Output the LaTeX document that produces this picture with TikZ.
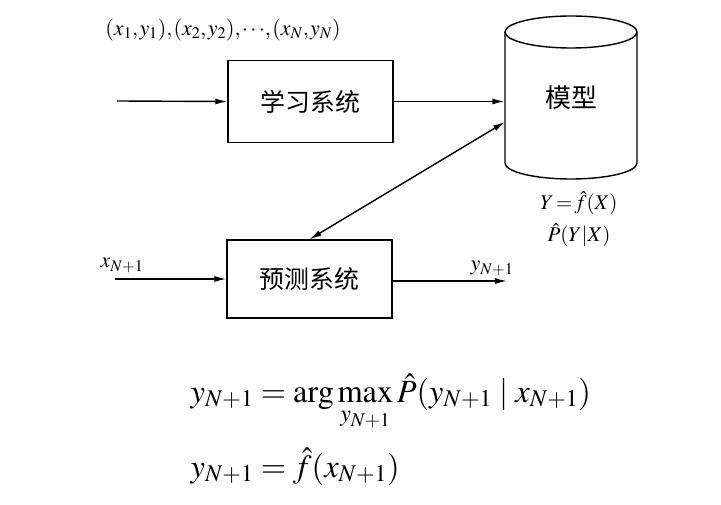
\documentclass[tikz,border=0pt]{standalone}
\usepackage{mathptmx}
\usepackage[no-math]{fontspec}
\setmainfont{Liberation Serif}
\newfontfamily\cjk{Noto Sans CJK SC}
\usetikzlibrary{arrows.meta}
\newcommand{\tc}{{,}\mskip1mu}
\begin{document}
\begin{tikzpicture}[x=1bp,y=-1bp,
  line width=1.4bp,
  sysbox/.style={draw, minimum width=165bp, minimum height=82bp, inner sep=0pt, font=\cjk\fontsize{25}{28}\selectfont},
  arr/.style={-{Latex[length=12bp,width=6bp]}},
  darr/.style={{Latex[length=12bp,width=6bp]}-{Latex[length=12bp,width=6bp]}},
  lbl/.style={inner sep=0pt, font=\fontsize{21}{24}\selectfont},
  eq/.style={inner sep=0pt, anchor=base west, font=\fontsize{32.5}{38}\selectfont}]
\useasboundingbox (0,0) rectangle (721,505);
% top data label
\node[lbl, font=\fontsize{22}{24}\selectfont] (data) at (223,30) {$(x_1\tc y_1)\tc(x_2\tc y_2)\tc{\cdots}\tc(x_N\tc y_N)$};
% learning system
\node[sysbox] (learn) at (310.5,101.5) {学习系统};
\coordinate (inl) at (117,101);
% cylinder model
\draw (505,32) -- (505,163) arc[start angle=180,end angle=360,x radius=66bp,y radius=16bp] -- (637,32);
\draw (571,32) ellipse[x radius=66bp, y radius=16bp];
\node[inner sep=0pt, minimum width=132bp, minimum height=131bp, font=\cjk\fontsize{26}{28}\selectfont] (model) at (571,97.5) {模型};
\coordinate (mlink) at (505,122);
\node[lbl] (fx) at (579,203) {$Y\!=\!\hat f(X)$};
\node[lbl] (px) at (579,235) {$\hat P(Y|X)$};
% prediction system
\node[sysbox, minimum height=78bp] (pred) at (309.5,279) {预测系统};
\coordinate (inp) at (115,279);
\coordinate (outp) at (507,281);
\node[lbl, anchor=base west, font=\fontsize{22}{24}\selectfont] (xin) at (100,268) {$x_{N+1}$};
\node[lbl, anchor=base west, font=\fontsize{22}{24}\selectfont] (yout) at (470,271) {$y_{N+1}$};
% connectors
\draw[arr] (inl) -- (learn.west);
\draw[arr] (learn.east) -- (learn.east -| model.west);
\draw[darr] (mlink) -- (pred.north);
\draw[arr] (inp) -- (pred.west);
\draw[arr] (pred.east |- outp) -- (outp);
% formulas
\node[eq] (eq1) at (190,402) {$\displaystyle y_{N+1}=\arg\max_{y_{N+1}}\hat P(y_{N+1}\mid x_{N+1})$};
\node[eq] (eq2) at (190,477) {$y_{N+1}=\hat f(x_{N+1})$};
\end{tikzpicture}
\end{document}
